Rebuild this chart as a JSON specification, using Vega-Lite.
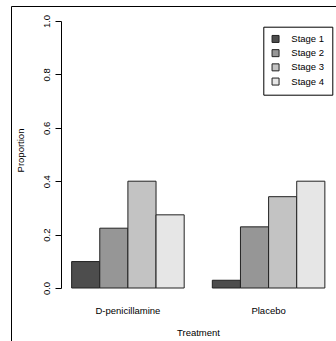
{
  "$schema": "https://vega.github.io/schema/vega-lite/v6.json",
  "width": 330,
  "height": 340,
  "autosize": {"type": "none"},
  "padding": {"left": 11, "top": 6, "right": 0, "bottom": 0},
  "background": "white",
  "config": {
    "font": "Liberation Sans",
    "view": {"stroke": "black", "strokeWidth": 1},
    "axis": {"labelColor": "black", "titleColor": "black", "labelFontSize": 9.5, "titleFontSize": 9.5, "titleFontWeight": "normal", "grid": false}
  },
  "data": {
    "values": [
      {"Treatment": "D-penicillamine", "Stage": "Stage 1", "Proportion": 0.099},
      {"Treatment": "D-penicillamine", "Stage": "Stage 2", "Proportion": 0.224},
      {"Treatment": "D-penicillamine", "Stage": "Stage 3", "Proportion": 0.400},
      {"Treatment": "D-penicillamine", "Stage": "Stage 4", "Proportion": 0.274},
      {"Treatment": "Placebo", "Stage": "Stage 1", "Proportion": 0.029},
      {"Treatment": "Placebo", "Stage": "Stage 2", "Proportion": 0.229},
      {"Treatment": "Placebo", "Stage": "Stage 3", "Proportion": 0.342},
      {"Treatment": "Placebo", "Stage": "Stage 4", "Proportion": 0.400}
    ]
  },
  "mark": {"type": "bar", "stroke": "#222", "strokeWidth": 1},
  "encoding": {
    "x": {
      "field": "Treatment",
      "type": "nominal",
      "scale": {"domain": ["D-penicillamine", "Placebo"], "range": [50.5, 324], "paddingInner": 0.2, "paddingOuter": 0.072},
      "axis": {
        "orient": "bottom",
        "offset": -58,
        "domain": false,
        "ticks": false,
        "tickSize": 0,
        "labelAngle": 0,
        "labelPadding": 17,
        "labelBaseline": "top",
        "title": "Treatment",
        "titleX": 187,
        "titleY": 47.5,
        "titleBaseline": "alphabetic",
        "titleAlign": "center"
      }
    },
    "xOffset": {
      "field": "Stage",
      "type": "nominal",
      "scale": {"paddingInner": 0, "paddingOuter": 0}
    },
    "y": {
      "field": "Proportion",
      "type": "quantitative",
      "scale": {"domain": [0, 1], "range": [282, 15], "nice": false, "zero": true},
      "axis": {
        "orient": "left",
        "offset": -50,
        "values": [0, 0.2, 0.4, 0.6, 0.8, 1.0],
        "format": ".1f",
        "domainColor": "black",
        "tickColor": "black",
        "tickSize": 6,
        "labelAngle": -90,
        "labelAlign": "center",
        "labelBaseline": "alphabetic",
        "labelPadding": 5.5,
        "title": "Proportion",
        "titleX": -37.5,
        "titleY": 144,
        "titleAngle": -90,
        "titleAlign": "center",
        "titleBaseline": "alphabetic"
      }
    },
    "color": {
      "field": "Stage",
      "type": "nominal",
      "scale": {"domain": ["Stage 1", "Stage 2", "Stage 3", "Stage 4"], "range": ["#4D4D4D", "#969696", "#C3C3C3", "#E6E6E6"]},
      "legend": {
        "title": null,
        "orient": "none",
        "legendX": 252.3,
        "legendY": 20.7,
        "strokeColor": "black",
        "fillColor": "white",
        "padding": 7.5,
        "symbolType": "square",
        "symbolSize": 49,
        "symbolStrokeColor": "#222",
        "symbolStrokeWidth": 1,
        "symbolOpacity": 1,
        "labelFontSize": 9.5,
        "labelColor": "black",
        "labelOffset": 11,
        "rowPadding": 2.2
      }
    }
  }
}
